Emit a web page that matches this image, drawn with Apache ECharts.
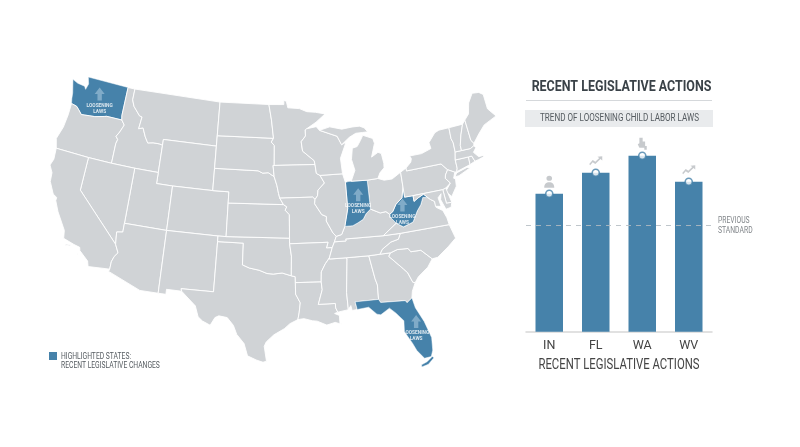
<!DOCTYPE html>
<html>
<head>
<meta charset="utf-8">
<style>html,body{margin:0;padding:0;background:#fff}#main{width:800px;height:447px}</style>
<script src="https://cdn.jsdelivr.net/npm/echarts@6/dist/echarts.min.js"></script>
</head>
<body>
<div id="main"></div>
<script>
// bar chart data
var categories = ['IN', 'FL', 'WA', 'WV'];
var barValues = [69, 79.5, 88, 75];
var previousStandard = 53;
var barIcons = ['person', 'trend', 'hand', 'trend'];

// states picked out on the map, and where their note sits (lon, lat)
var highlightedStates = ['Washington', 'Indiana', 'West Virginia', 'Florida'];
var noteAnchors = [[-120.5, 47.45], [-86.15, 40.15], [-81.0, 38.7], [-81.45, 28.2]];

var BLUE = '#4682aa';
var GREY = '#d0d3d6';

// simplified state outlines, lon/lat
var stateShapes = {
    'Washington': [[[-124.7,48.38],[-123.9,48.17],[-122.9,48.1],[-122.65,47.85],[-122.45,48.4],[-122.75,49],[-117.03,49],[-117.04,46.4],[-116.92,46],[-118.98,46],[-119.3,45.93],[-120.5,45.7],[-121.2,45.65],[-122.3,45.55],[-122.8,45.9],[-123.2,46.15],[-123.95,46.25],[-124.1,46.7],[-124.2,47.2]]],
    'Oregon': [[[-123.95,46.25],[-123.2,46.15],[-122.8,45.9],[-122.3,45.55],[-121.2,45.65],[-120.5,45.7],[-119.3,45.93],[-118.98,46],[-116.92,46],[-116.46,45.6],[-116.85,44.9],[-117.2,44.45],[-116.9,44.2],[-117.03,43.8],[-117.03,42],[-120,42],[-124.2,42],[-124.55,42.84],[-124.1,44],[-123.95,45.2]]],
    'Idaho': [[[-117.03,49],[-116.05,49],[-116.05,48],[-115.7,47.45],[-114.7,46.7],[-114.35,46.65],[-114.5,45.55],[-113.95,45.7],[-113.45,44.95],[-113,44.45],[-112.3,44.55],[-111.5,44.55],[-111.05,44.48],[-111.05,42],[-114.05,42],[-117.03,42],[-117.03,43.8],[-116.9,44.2],[-117.2,44.45],[-116.85,44.9],[-116.46,45.6],[-116.92,46],[-117.04,46.4]]],
    'Montana': [[[-116.05,49],[-104.05,49],[-104.05,45.94],[-104.05,45],[-111.05,45],[-111.05,44.48],[-111.5,44.55],[-112.3,44.55],[-113,44.45],[-113.45,44.95],[-113.95,45.7],[-114.5,45.55],[-114.35,46.65],[-114.7,46.7],[-115.7,47.45],[-116.05,48]]],
    'Wyoming': [[[-111.05,45],[-104.05,45],[-104.05,43],[-104.05,41],[-109.05,41],[-111.05,41],[-111.05,42],[-111.05,44.48]]],
    'Utah': [[[-114.05,42],[-111.05,42],[-111.05,41],[-109.05,41],[-109.05,37],[-114.05,37],[-114.05,36.2]]],
    'Colorado': [[[-109.05,41],[-104.05,41],[-102.05,41],[-102.05,40],[-102.05,37],[-103,37],[-109.05,37]]],
    'Nevada': [[[-120,42],[-117.03,42],[-114.05,42],[-114.05,37],[-114.05,36.2],[-114.75,36.1],[-114.6,35],[-120,39]]],
    'California': [[[-124.2,42],[-120,42],[-120,39],[-114.6,35],[-114.15,34.3],[-114.5,33.9],[-114.7,33.4],[-114.72,32.72],[-117.12,32.53],[-117.3,33],[-118.4,33.75],[-118.5,34.03],[-119.2,34.15],[-120.5,34.45],[-120.65,35.15],[-121.9,36.6],[-122.5,37.5],[-122.5,37.8],[-123,38],[-123.75,39],[-123.85,39.8],[-124.35,40.4],[-124.1,41]],
        [[-120.2,34.0],[-119.6,34.05],[-119.5,33.95],[-120.1,33.9]], [[-118.6,33.45],[-118.3,33.35],[-118.35,33.3],[-118.6,33.4]]],
    'Arizona': [[[-114.05,37],[-109.05,37],[-109.05,31.33],[-111.07,31.33],[-114.8,32.5],[-114.72,32.72],[-114.7,33.4],[-114.5,33.9],[-114.15,34.3],[-114.6,35],[-114.75,36.1],[-114.05,36.2]]],
    'New Mexico': [[[-109.05,37],[-103,37],[-103,36.5],[-103.05,32],[-106.62,32],[-106.53,31.78],[-108.2,31.78],[-108.2,31.33],[-109.05,31.33]]],
    'Texas': [[[-103,36.5],[-100,36.5],[-100,34.56],[-99.2,34.3],[-98.1,34.13],[-97.2,33.85],[-96.5,33.8],[-95.5,33.9],[-94.48,33.64],[-94.04,33.55],[-94.04,33.02],[-94.04,31.99],[-93.55,31.2],[-93.7,30.3],[-93.85,29.7],[-94.7,29.35],[-95.3,28.9],[-96.4,28.35],[-97.2,27.7],[-97.4,27.3],[-97.15,25.96],[-97.5,25.85],[-98.2,26.05],[-99.1,26.4],[-99.5,27.5],[-100.3,28.3],[-100.7,29.1],[-101.4,29.77],[-102.3,29.88],[-102.7,29.7],[-103.15,28.98],[-104,29.3],[-104.5,29.65],[-104.9,30.6],[-106,31.4],[-106.53,31.78],[-106.62,32],[-103.05,32]]],
    'Oklahoma': [[[-103,37],[-102.05,37],[-94.62,37],[-94.62,36.5],[-94.43,35.4],[-94.48,33.64],[-95.5,33.9],[-96.5,33.8],[-97.2,33.85],[-98.1,34.13],[-99.2,34.3],[-100,34.56],[-100,36.5],[-103,36.5]]],
    'Kansas': [[[-102.05,40],[-95.3,40],[-94.9,39.8],[-95.1,39.5],[-94.6,39.1],[-94.62,37],[-102.05,37]]],
    'Nebraska': [[[-104.05,43],[-98.5,43],[-97.9,42.8],[-97.2,42.85],[-96.45,42.5],[-96.1,41.7],[-95.9,41],[-95.75,40.58],[-95.3,40],[-102.05,40],[-102.05,41],[-104.05,41]]],
    'South Dakota': [[[-104.05,45.94],[-96.56,45.94],[-96.85,45.6],[-96.45,45.3],[-96.45,43.5],[-96.6,43.5],[-96.45,42.5],[-97.2,42.85],[-97.9,42.8],[-98.5,43],[-104.05,43],[-104.05,45]]],
    'North Dakota': [[[-104.05,49],[-97.23,49],[-96.85,47.6],[-96.56,45.94],[-104.05,45.94]]],
    'Minnesota': [[[-97.23,49],[-95.15,49],[-95.15,49.38],[-94.8,49.3],[-94.6,48.7],[-93,48.6],[-92,48.3],[-90.8,48.2],[-89.5,48],[-90.8,47.3],[-92.1,46.75],[-92.3,46.65],[-92.3,46.1],[-92.9,45.6],[-92.75,44.75],[-91.3,43.85],[-91.22,43.5],[-96.45,43.5],[-96.45,45.3],[-96.85,45.6],[-96.56,45.94],[-96.85,47.6]]],
    'Iowa': [[[-96.6,43.5],[-91.22,43.5],[-91.1,42.7],[-90.65,42.5],[-90.15,41.8],[-91,41.2],[-91.1,40.7],[-91.42,40.38],[-91.7,40.6],[-95.75,40.58],[-95.9,41],[-96.1,41.7],[-96.45,42.5]]],
    'Missouri': [[[-95.75,40.58],[-91.7,40.6],[-91.42,40.38],[-91.5,40],[-90.7,39],[-90.15,38.8],[-90.2,38.4],[-89.5,37.3],[-89.15,36.98],[-89.4,36.5],[-89.7,36],[-90.37,36],[-90.15,36.5],[-94.62,36.5],[-94.62,37],[-94.6,39.1],[-95.1,39.5],[-94.9,39.8],[-95.3,40]]],
    'Arkansas': [[[-94.62,36.5],[-90.15,36.5],[-90.37,36],[-89.7,36],[-90.1,35.1],[-90.6,34.6],[-91.1,33.9],[-91.17,33],[-94.04,33.02],[-94.04,33.55],[-94.48,33.64],[-94.43,35.4]]],
    'Louisiana': [[[-94.04,33.02],[-91.17,33],[-91.1,32.3],[-91.6,31],[-89.75,31],[-89.75,30.6],[-89.55,30.2],[-89.9,30.1],[-89.4,29.9],[-89.4,29.2],[-89.1,29.05],[-89.9,29.3],[-90.8,29.1],[-91.8,29.5],[-92.3,29.55],[-93.2,29.77],[-93.85,29.7],[-93.7,30.3],[-93.55,31.2],[-94.04,31.99]]],
    'Mississippi': [[[-91.17,33],[-91.1,33.9],[-90.6,34.6],[-90.1,35.1],[-90.1,35],[-88.2,35],[-88.1,34.9],[-88.45,31.9],[-88.4,30.35],[-89.55,30.2],[-89.75,30.6],[-89.75,31],[-91.6,31],[-91.1,32.3]]],
    'Alabama': [[[-88.2,35],[-85.6,34.98],[-85.18,32.87],[-85,32.3],[-85.05,31],[-87.6,31],[-87.45,30.3],[-88,30.25],[-88.1,30.7],[-88.4,30.35],[-88.45,31.9],[-88.1,34.9]]],
    'Georgia': [[[-85.6,34.98],[-84.32,35],[-83.1,35],[-83.35,34.7],[-81.9,33.4],[-81.5,33],[-81.1,32.1],[-80.85,32.03],[-81.3,31.3],[-81.45,30.72],[-82.05,30.36],[-82.2,30.57],[-84.86,30.7],[-85.05,31],[-85,32.3],[-85.18,32.87]]],
    'Florida': [[[-87.6,31],[-85.05,31],[-84.86,30.7],[-82.2,30.57],[-82.05,30.36],[-81.45,30.72],[-81.25,29.8],[-80.55,28.45],[-80.05,26.9],[-80.15,25.75],[-80.4,25.2],[-81.1,25.15],[-81.75,25.95],[-82.1,26.7],[-82.75,27.8],[-82.65,28.8],[-83.4,29.6],[-84,30.1],[-85,29.6],[-85.4,29.7],[-86.2,30.4],[-87.45,30.3]],
        [[-80.3,25.2],[-80.9,24.8],[-81.5,24.6],[-81.5,24.4],[-80.8,24.55],[-80.15,25.05]]],
    'South Carolina': [[[-83.1,35],[-82.3,35.2],[-81.05,35.15],[-80.8,34.82],[-79.65,34.8],[-78.55,33.86],[-79.2,33.2],[-80.4,32.5],[-80.85,32.03],[-81.1,32.1],[-81.5,33],[-81.9,33.4],[-83.35,34.7]]],
    'North Carolina': [[[-84.32,35],[-83.1,35],[-82.3,35.2],[-81.05,35.15],[-80.8,34.82],[-79.65,34.8],[-78.55,33.86],[-77.9,33.9],[-76.5,34.65],[-75.5,35.25],[-75.9,36.55],[-81.68,36.59],[-82,36.1],[-82.9,35.95],[-84,35.4]]],
    'Tennessee': [[[-90.1,35],[-88.2,35],[-85.6,34.98],[-84.32,35],[-84,35.4],[-82.9,35.95],[-82,36.1],[-81.68,36.59],[-83.68,36.6],[-88.07,36.68],[-88.05,36.5],[-89.4,36.5],[-89.7,36],[-90.1,35.1]]],
    'Kentucky': [[[-89.4,36.5],[-88.05,36.5],[-88.07,36.68],[-83.68,36.6],[-81.97,37.54],[-82.6,38.17],[-82.6,38.42],[-83,38.7],[-83.7,38.65],[-84.8,39.1],[-85.4,38.73],[-85.8,38.27],[-86.5,38],[-87.1,37.8],[-88.05,37.8],[-88.5,37.1],[-89.15,36.98]]],
    'Virginia': [[[-83.68,36.6],[-81.68,36.59],[-75.9,36.55],[-76,37.2],[-76.3,37.9],[-77,38.3],[-77.05,38.85],[-77.5,39.1],[-77.75,39.3],[-78.35,39.4],[-78.75,38.8],[-79.3,38.3],[-80,37.4],[-81.2,37.12],[-81.97,37.54]]],
    'West Virginia': [[[-81.97,37.54],[-81.2,37.12],[-80,37.4],[-79.3,38.3],[-78.75,38.8],[-78.35,39.4],[-77.75,39.3],[-78.2,39.68],[-78.9,39.45],[-79.48,39.2],[-79.48,39.72],[-80.52,39.72],[-80.52,40.64],[-80.85,39.7],[-81.7,39.2],[-82.2,38.6],[-82.6,38.42],[-82.6,38.17]]],
    'Ohio': [[[-84.8,41.7],[-83.45,41.73],[-82.7,41.5],[-81.7,41.5],[-80.52,41.98],[-80.52,40.64],[-80.85,39.7],[-81.7,39.2],[-82.2,38.6],[-82.6,38.42],[-83,38.7],[-83.7,38.65],[-84.8,39.1]]],
    'Indiana': [[[-87.53,41.7],[-87.2,41.76],[-86.8,41.76],[-84.8,41.7],[-84.8,39.1],[-85.4,38.73],[-85.8,38.27],[-86.5,38],[-87.1,37.8],[-88.05,37.8],[-87.53,39.35]]],
    'Illinois': [[[-90.65,42.5],[-87.8,42.5],[-87.53,41.7],[-87.53,39.35],[-88.05,37.8],[-88.5,37.1],[-89.15,36.98],[-89.5,37.3],[-90.2,38.4],[-90.15,38.8],[-90.7,39],[-91.5,40],[-91.42,40.38],[-91.1,40.7],[-91,41.2],[-90.15,41.8]]],
    'Wisconsin': [[[-92.1,46.75],[-90.8,46.9],[-90.4,46.55],[-88.1,45.9],[-87.6,45.1],[-87,45.3],[-87.9,43.9],[-87.8,42.5],[-90.65,42.5],[-91.1,42.7],[-91.22,43.5],[-91.3,43.85],[-92.75,44.75],[-92.9,45.6],[-92.3,46.1],[-92.3,46.65]]],
    'Michigan': [[[-86.8,41.76],[-84.8,41.7],[-83.45,41.73],[-83.1,42.2],[-82.5,42.6],[-82.45,43],[-82.6,43.9],[-83,44.05],[-83.9,43.7],[-83.3,44.9],[-83.45,45.35],[-84.7,45.75],[-85.1,45.3],[-85.6,44.8],[-86.25,44.7],[-86.5,43.7],[-86.2,42.7]],
        [[-90.4,46.55],[-89,46.8],[-87.4,46.5],[-86,46.6],[-85,46.6],[-84.4,46.4],[-84,46],[-84.7,46],[-85.6,46],[-86.5,45.7],[-87.6,45.1],[-88.1,45.9]]],
    'Pennsylvania': [[[-80.52,41.98],[-79.76,42.27],[-79.76,42],[-75.35,42],[-74.7,41.36],[-75.1,40.95],[-75.2,40.65],[-74.72,40.15],[-75.4,39.8],[-75.8,39.72],[-79.48,39.72],[-80.52,39.72]]],
    'New York': [[[-79.76,42.27],[-79.05,42.7],[-78.9,43],[-79.05,43.27],[-77.5,43.27],[-76.2,43.55],[-76.3,44.1],[-75.3,44.85],[-74.7,45],[-73.35,45],[-73.4,44],[-73.25,43.6],[-73.28,42.75],[-73.5,42.05],[-73.5,41.3],[-73.65,41],[-73.9,41],[-74.7,41.36],[-75.35,42],[-79.76,42]],
        [[-74,40.6],[-73.7,40.9],[-72.3,41.15],[-71.9,41.05],[-73.5,40.6]]],
    'New Jersey': [[[-74.7,41.36],[-73.9,41],[-74.2,40.5],[-74,40.4],[-74.1,39.75],[-74.9,38.95],[-75.5,39.5],[-74.72,40.15],[-75.2,40.65],[-75.1,40.95]]],
    'Delaware': [[[-75.8,39.72],[-75.4,39.8],[-75.05,38.45],[-75.7,38.46]]],
    'Maryland': [[[-79.48,39.72],[-75.8,39.72],[-75.7,38.46],[-75.05,38.45],[-75.25,38.03],[-75.9,37.95],[-76.3,38.9],[-76.1,39.4],[-76.55,39.1],[-76.4,38.3],[-77.05,38.4],[-77.05,38.85],[-77.5,39.1],[-77.75,39.3],[-78.2,39.68],[-78.9,39.45],[-79.48,39.2]]],
    'Connecticut': [[[-73.5,42.05],[-71.8,42.02],[-71.85,41.32],[-73.65,41],[-73.5,41.3]]],
    'Rhode Island': [[[-71.8,42.02],[-71.38,42.02],[-71.15,41.5],[-71.85,41.32]]],
    'Massachusetts': [[[-73.5,42.05],[-73.28,42.75],[-72.46,42.73],[-71.3,42.7],[-70.8,42.87],[-70.6,42.65],[-71.05,42.3],[-70.55,41.8],[-70,41.8],[-70.05,42.05],[-69.95,41.67],[-70.65,41.55],[-71.15,41.5],[-71.38,42.02],[-71.8,42.02]]],
    'Vermont': [[[-73.35,45],[-71.5,45],[-72.05,44.1],[-72.45,43.2],[-72.46,42.73],[-73.28,42.75],[-73.25,43.6],[-73.4,44]]],
    'New Hampshire': [[[-71.5,45],[-71.08,45.3],[-70.98,43.4],[-70.7,43.07],[-70.8,42.87],[-71.3,42.7],[-72.46,42.73],[-72.45,43.2],[-72.05,44.1]]],
    'Maine': [[[-71.08,45.3],[-70.4,45.75],[-70,46.7],[-69.2,47.45],[-68.3,47.35],[-67.8,47.05],[-67.8,45.7],[-67,44.85],[-68.8,44.4],[-69.8,43.75],[-70.7,43.07],[-70.98,43.4]]]
};

var iconShapes = {
    person: {path: 'path://M5,0a2.8,2.8 0 1 0 .01,0ZM0,13C0,8.5 2,7 5,7C8,7 10,8.5 10,13Z', size: [10, 12]},
    trend: {path: 'path://M0,9L4,4.5L7,6.5L11.5,2L9.5,0.5L15,0L15,5L13,3.2L7,9L4,7L1,10.5Z', size: [13, 9]},
    hand: {path: 'path://M2,0L6,0L6,4L9,4L9,9L11,9L11,13L8,13L8,11L2,11L0,7L2,6Z', size: [9, 12]}
};
var arrowPath = 'path://M0,-10L8,0L3.5,0L3.5,10L-3.5,10L-3.5,0L-8,0Z';

// Albers conic, same parallels as the usual US map
var toRad = Math.PI / 180;
var phi1 = 29.5 * toRad, phi2 = 45.5 * toRad, phi0 = 37.5 * toRad, lam0 = -96 * toRad;
var n = (Math.sin(phi1) + Math.sin(phi2)) / 2;
var C = Math.cos(phi1) * Math.cos(phi1) + 2 * n * Math.sin(phi1);
var rho0 = Math.sqrt(C - 2 * n * Math.sin(phi0)) / n;
var albers = {
    project: function (p) {
        var rho = Math.sqrt(C - 2 * n * Math.sin(p[1] * toRad)) / n;
        var th = n * (p[0] * toRad - lam0);
        return [rho * Math.sin(th) * 1000, -(rho0 - rho * Math.cos(th)) * 1000];
    },
    unproject: function (q) {
        var x = q[0] / 1000, y = rho0 + q[1] / 1000;
        var rho = Math.sqrt(x * x + y * y);
        var th = Math.atan2(x, y);
        return [(th / n + lam0) / toRad, Math.asin((C - rho * rho * n * n) / (2 * n)) / toRad];
    }
};

var features = Object.keys(stateShapes).map(function (name) {
    return {
        type: 'Feature',
        properties: {name: name},
        geometry: {
            type: 'MultiPolygon',
            coordinates: stateShapes[name].map(function (ring) { return [ring.concat([ring[0]])]; })
        }
    };
});
echarts.registerMap('usStates', {type: 'FeatureCollection', features: features});

// no condensed face is installed, so squeeze Roboto horizontally
function squeezed(text, x, y, size, scale, fill, weight, align) {
    return {
        type: 'text',
        x: x,
        y: y,
        scaleX: scale,
        silent: true,
        style: {
            text: text,
            fill: fill,
            align: align || 'center',
            verticalAlign: 'middle',
            font: (weight || 'normal') + ' ' + size + 'px Roboto'
        }
    };
}

var myChart = echarts.init(document.getElementById('main'), null, {renderer: 'canvas'});

var option = {
    backgroundColor: '#ffffff',
    animation: false,
    textStyle: {fontFamily: 'Roboto, sans-serif'},
    geo: {
        map: 'usStates',
        projection: albers,
        aspectScale: 1,
        left: 50,
        top: 77,
        width: 446,
        height: 290,
        silent: true,
        roam: false,
        label: {show: false},
        itemStyle: {areaColor: GREY, borderColor: '#ffffff', borderWidth: 0.9},
        regions: highlightedStates.map(function (name) {
            return {name: name, itemStyle: {areaColor: BLUE, borderColor: '#ffffff', borderWidth: 0.5}};
        })
    },
    grid: {left: 526, width: 186, top: 131.7, height: 200},
    xAxis: {
        type: 'category',
        data: categories,
        axisTick: {show: false},
        axisLine: {lineStyle: {color: '#d8d8d8', width: 1.5}},
        axisLabel: {color: '#444', fontSize: 12.5, margin: 8}
    },
    yAxis: {type: 'value', min: 0, max: 100, show: false},
    graphic: [
        squeezed('RECENT LEGISLATIVE ACTIONS', 621.5, 87.5, 15, 0.83, '#3a4248', 'bold'),
        {type: 'rect', silent: true, shape: {x: 526, y: 100, width: 186, height: 1}, style: {fill: '#d5d8db'}},
        {type: 'rect', silent: true, shape: {x: 525, y: 110, width: 188, height: 17}, style: {fill: '#e9ebed'}},
        squeezed('TREND OF LOOSENING CHILD LABOR LAWS', 619.5, 118.7, 10.5, 0.77, '#555b60'),
        squeezed('RECENT LEGISLATIVE ACTIONS', 619, 365.7, 14, 0.81, '#444'),
        squeezed('PREVIOUS', 718, 221, 8.5, 0.8, '#808589', 'normal', 'left'),
        squeezed('STANDARD', 718, 230.5, 8.5, 0.8, '#808589', 'normal', 'left'),
        {type: 'rect', silent: true, shape: {x: 49, y: 352, width: 8, height: 8}, style: {fill: BLUE}},
        squeezed('HIGHLIGHTED STATES:', 61, 357, 9, 0.75, '#555b60', 'normal', 'left'),
        squeezed('RECENT LEGISLATIVE CHANGES', 61, 366, 9, 0.75, '#555b60', 'normal', 'left')
    ],
    series: [
        {
            type: 'scatter',
            coordinateSystem: 'geo',
            geoIndex: 0,
            silent: true,
            symbol: arrowPath,
            symbolSize: [10, 13],
            symbolOffset: [0, -4],
            itemStyle: {color: '#8fb5cf'},
            label: {
                show: true,
                position: 'bottom',
                distance: 2,
                formatter: 'LOOSENING\nLAWS',
                color: '#fff',
                fontSize: 4.8,
                lineHeight: 6,
                fontWeight: 'bold',
                fontFamily: 'Roboto'
            },
            data: noteAnchors
        },
        {
            type: 'bar',
            barWidth: 27.5,
            silent: true,
            itemStyle: {color: BLUE},
            data: barValues,
            markLine: {
                silent: true,
                symbol: 'none',
                lineStyle: {color: '#b4bcc2', type: [5, 5], width: 1, opacity: 0.85},
                label: {show: false},
                data: [{yAxis: previousStandard}]
            }
        },
        {
            type: 'scatter',
            silent: true,
            symbol: 'circle',
            symbolSize: 7,
            itemStyle: {color: '#fff', borderColor: BLUE, borderWidth: 1.6},
            data: barValues,
            z: 5
        },
        {
            type: 'scatter',
            silent: true,
            symbolOffset: [0, -12],
            itemStyle: {color: '#b9bdc1'},
            data: barValues.map(function (v, i) {
                var icon = iconShapes[barIcons[i]];
                return {value: v, symbol: icon.path, symbolSize: icon.size};
            }),
            z: 5
        }
    ]
};
myChart.setOption(option);
</script>
</body>
</html>
